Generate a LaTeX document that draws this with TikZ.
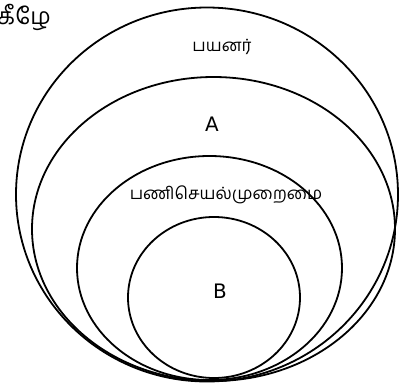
\documentclass[tikz,border=0pt]{standalone}
\usepackage{fontspec}
\usetikzlibrary{shapes.geometric}
\setmainfont{DejaVu Sans}
\newfontfamily\tamilfont[Script=Tamil]{Hind Madurai}
\begin{document}
\begin{tikzpicture}[x=1bp,y=-1bp,
  ring/.style={draw=black,line width=1.8bp,ellipse,inner sep=0pt,outer sep=0pt},
  lbl/.style={inner sep=0pt,font=\fontsize{20}{22}\selectfont},
  tlbl/.style={inner sep=0pt,font=\tamilfont\fontsize{17}{20}\selectfont}]
\useasboundingbox (0,0) rectangle (399,383);
\node[ring,minimum width=382bp,minimum height=374bp] (outer) at (207,194.5) {};
\node[ring,minimum width=363bp,minimum height=304bp] (ringA) at (213.5,229) {};
\node[ring,minimum width=265bp,minimum height=224bp] (ringP) at (209.5,268) {};
\node[ring,minimum width=172bp,minimum height=161bp] (ringB) at (214,297.5) {};
\node[tlbl,font=\tamilfont\fontsize{23}{25}\selectfont,anchor=east] (title) at (51,17) {கீழே};
\node[tlbl] (users) at (222,47) {பயனர்};
\node[lbl] (labA) at (212,124) {A};
\node[tlbl] (proc) at (226,195) {பணிசெயல்முறைமை};
\node[lbl] (labB) at (220,291) {B};
\end{tikzpicture}
\end{document}
